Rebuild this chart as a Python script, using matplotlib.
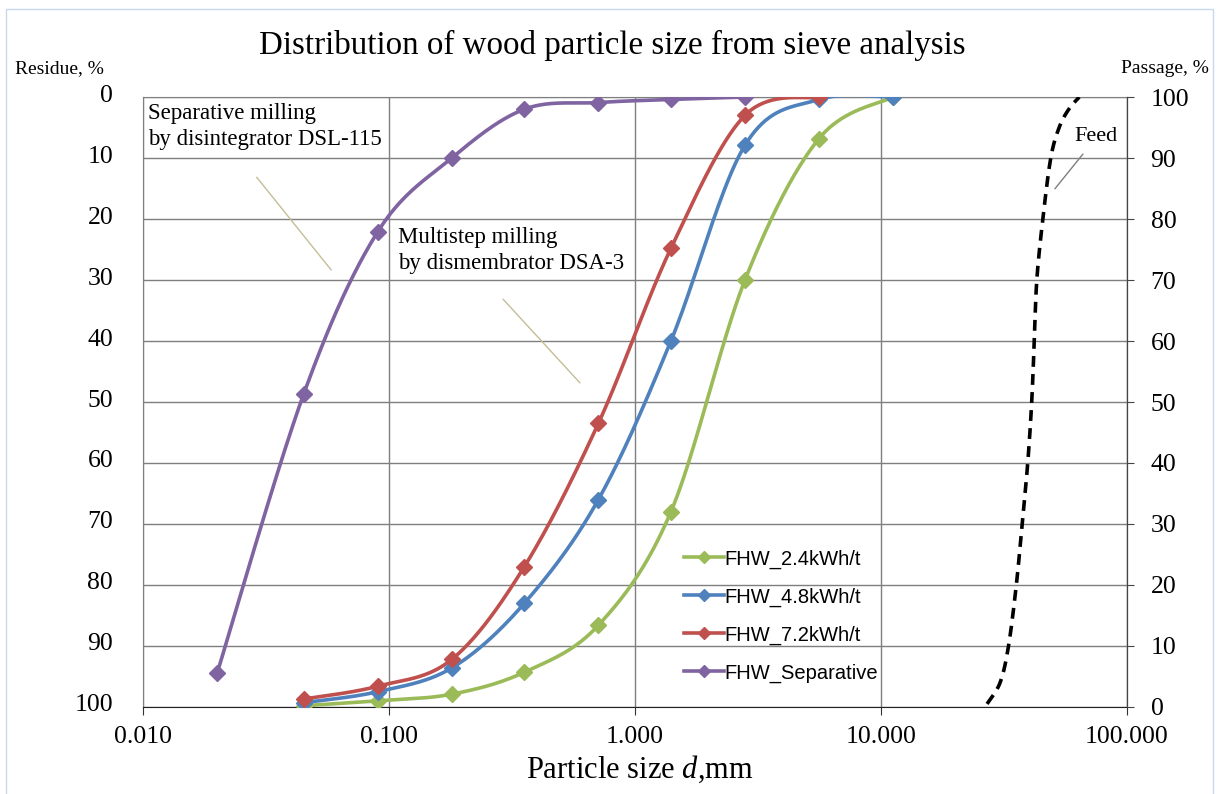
import numpy as np
import matplotlib
matplotlib.use("Agg")
import matplotlib.pyplot as plt
from matplotlib.patches import Rectangle
from matplotlib.transforms import ScaledTranslation

plt.rcParams['font.family'] = ['Liberation Serif', 'DejaVu Serif']
plt.rcParams['mathtext.fontset'] = 'custom'
plt.rcParams['mathtext.it'] = 'Liberation Serif:italic'
plt.rcParams['mathtext.rm'] = 'Liberation Serif'

# sieve sizes, mm
sizes = [0.045, 0.09, 0.18, 0.355, 0.71, 1.4, 2.8, 5.6, 11.2]
sizes_sep = [0.02, 0.045, 0.09, 0.18, 0.355, 0.71, 1.4, 2.8]

# residue, %
res_24 = [99.8, 99.0, 97.9, 94.3, 86.6, 68.0, 30.0, 6.8, 0.0]
res_48 = [99.3, 97.5, 93.6, 83.0, 66.0, 40.0, 7.9, 0.4, 0.0]
res_72 = [98.7, 96.6, 92.2, 77.0, 53.5, 24.8, 3.0, 0.0]
res_sep = [94.5, 48.7, 22.1, 10.0, 2.0, 0.9, 0.4, 0.0]

# feed (passage, %)
feed_size = [27, 30.5, 33, 35.5, 37.5, 39.5, 41, 42, 43, 45.5, 49, 53, 58, 64]
feed_pass = [0.5, 4, 10, 20, 30, 40, 50, 60, 70, 80, 90, 95, 98, 100]

labels = ["FHW_2.4kWh/t", "FHW_4.8kWh/t", "FHW_7.2kWh/t", "FHW_Separative"]
colors = ["#9BBB59", "#4F81BD", "#C0504D", "#8064A2"]


def smooth(x, y, n=40):
    # Excel-like smoothed line (Bezier through the points), in log-x space
    pts = np.column_stack([np.log10(x), y])
    P = np.vstack([pts[0], pts, pts[-1]])
    out = []
    t = np.linspace(0, 1, n)[:, None]
    for i in range(1, len(P) - 2):
        p0, p1, p2, p3 = P[i - 1], P[i], P[i + 1], P[i + 2]
        c1 = p1 + (p2 - p0) / 6
        c2 = p2 - (p3 - p1) / 6
        seg = (1 - t) ** 3 * p1 + 3 * (1 - t) ** 2 * t * c1 + 3 * (1 - t) * t ** 2 * c2 + t ** 3 * p2
        out.append(seg)
    out = np.vstack(out)
    return 10 ** out[:, 0], out[:, 1]


fig = plt.figure(figsize=(12.19, 7.94), dpi=100)
ax = fig.add_axes([0.1173, 0.1096, 0.8072, 0.7682])

series = [(sizes, res_24), (sizes, res_48), (sizes[:8], res_72), (sizes_sep, res_sep)]
for (xs, ys), lab, c in zip(series, labels, colors):
    sx, sy = smooth(xs, ys)
    ax.plot(sx, sy, color=c, lw=2.6, zorder=3)
    ax.plot(xs, ys, ls='none', marker='D', ms=8, color=c, zorder=4)
    ax.plot([], [], color=c, lw=2.6, marker='D', ms=6, label=lab)

ax.set_xscale('log')
ax.set_xlim(0.01, 100)
ax.set_ylim(100, 0)
ax.set_xticks([0.01, 0.1, 1, 10, 100])
ax.set_xticklabels(["0.010", "0.100", "1.000", "10.000", "100.000"])
ax.xaxis.set_minor_locator(plt.NullLocator())
ax.set_yticks(range(0, 101, 10))
ax.grid(True, color='#7f7f7f', lw=1)
ax.set_axisbelow(True)
ax.tick_params(axis='y', length=0, labelsize=18.5, pad=21.5)
ax.tick_params(axis='x', length=6, direction='out', labelsize=18.5, pad=8, color='#333333')
for s in ['left', 'top']:
    ax.spines[s].set_color('#7f7f7f')
ax.spines['bottom'].set_color('#222222')
shift = ScaledTranslation(0, 4 / 100, fig.dpi_scale_trans)
for lab in ax.get_yticklabels():
    lab.set_transform(lab.get_transform() + shift)

ax2 = ax.twinx()
sx, sy = smooth(feed_size, feed_pass)
ax2.plot(sx, sy, color='black', lw=2.6, ls=(0, (3, 2)), zorder=3)
ax2.set_ylim(0, 100)
ax2.set_yticks(range(0, 101, 10))
ax2.tick_params(axis='y', length=5, direction='out', labelsize=18.5, pad=12, color='#444444')
ax2.spines['right'].set_color('#444444')
for s in ['left', 'top', 'bottom']:
    ax2.spines[s].set_visible(False)

ax.legend(loc='upper left', bbox_to_anchor=(0.531, 0.288), frameon=False,
          prop={'family': 'Liberation Sans', 'size': 14.5}, handlelength=2.0,
          handletextpad=0.0, labelspacing=0.93)

ax.text(0.005, 0.99, "Separative milling\nby disintegrator DSL-115", transform=ax.transAxes,
        fontsize=16.5, va='top', ha='left', linespacing=1.3)
ax.text(0.259, 0.787, "Multistep milling\nby dismembrator DSA-3", transform=ax.transAxes,
        fontsize=16.5, va='top', ha='left', linespacing=1.3)
ax.text(0.947, 0.936, "Feed", transform=ax.transAxes, fontsize=16, va='center', ha='left')

lead = dict(arrowstyle='-', color='#c4bd97', lw=1)
ax.annotate('', xy=(0.193, 0.713), xytext=(0.1138, 0.872), xycoords='axes fraction', arrowprops=lead)
ax.annotate('', xy=(0.446, 0.528), xytext=(0.364, 0.672), xycoords='axes fraction', arrowprops=lead)
ax.annotate('', xy=(0.925, 0.846), xytext=(0.957, 0.910), xycoords='axes fraction',
            arrowprops=dict(arrowstyle='-', color='#7f7f7f', lw=1))

fig.text(0.502, 0.943, "Distribution of wood particle size from sieve analysis", fontsize=23.8,
         ha='center', va='center')
fig.text(0.525, 0.031, r"Particle size $d$,mm", fontsize=22, ha='center', va='center')
fig.text(0.012, 0.914, "Residue, %", fontsize=14, ha='left', va='center')
fig.text(0.992, 0.914, "Passage, %", fontsize=14, ha='right', va='center')

fig.add_artist(Rectangle((0.005, -0.05), 0.99, 1.039, transform=fig.transFigure,
                         fill=False, edgecolor='#c6d9f1', lw=1))

fig.savefig("out.png", dpi=100)
